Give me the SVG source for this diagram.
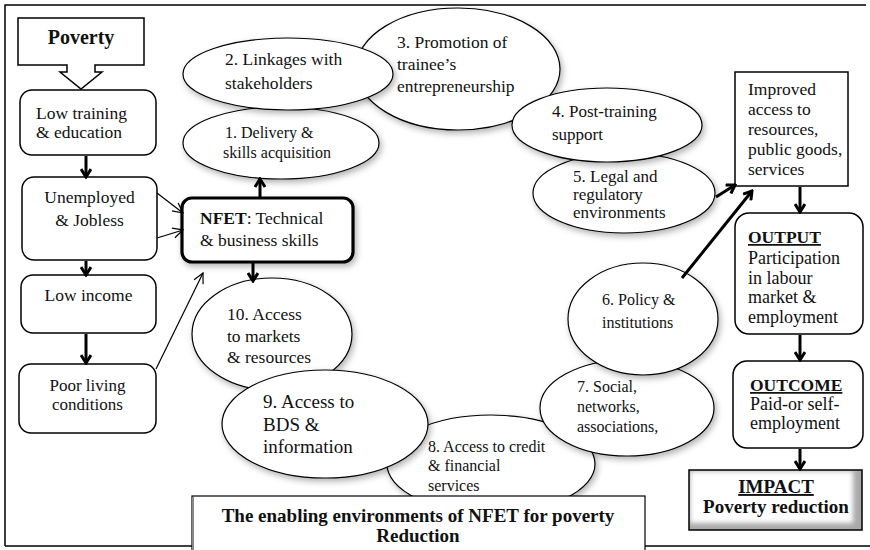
<svg xmlns="http://www.w3.org/2000/svg" width="870" height="550" viewBox="0 0 870 550">
<style>
.t{font-family:"Liberation Serif","Times New Roman",serif;font-size:17.5px;fill:#111}
.b{font-weight:bold}
.m{text-anchor:middle}
.box{fill:#fff;stroke:#000;stroke-width:1.5}
.ell{fill:#fff;stroke:#000;stroke-width:1.2;filter:url(#sh)}
.thick{stroke:#000;stroke-width:3;fill:none;marker-end:url(#ah)}
.thin{stroke:#000;stroke-width:1.2;fill:none;marker-end:url(#ahs)}
.frame{fill:none;stroke:#000;stroke-width:1.5}
</style>
<defs>
<filter id="sh" x="-20%" y="-20%" width="150%" height="160%">
<feDropShadow dx="2" dy="3" stdDeviation="3" flood-color="#000" flood-opacity="0.3"/>
</filter>
<filter id="blur" x="-10%" y="-10%" width="120%" height="120%">
<feGaussianBlur stdDeviation="2.5"/>
</filter>
<marker id="ah" viewBox="0 0 12 12" refX="10" refY="6" markerWidth="12" markerHeight="12" markerUnits="userSpaceOnUse" orient="auto">
<path d="M2,1 L10,6 L2,11" fill="none" stroke="#000" stroke-width="3"/>
</marker>
<marker id="ahs" viewBox="0 0 12 12" refX="11" refY="6" markerWidth="12" markerHeight="12" markerUnits="userSpaceOnUse" orient="auto">
<path d="M1,1 L11,6 L1,11" fill="none" stroke="#000" stroke-width="1.2"/>
</marker>
</defs>
<rect width="870" height="550" fill="#fff"/>
<path class="frame" d="M5,546 L5,5 L866,5"/>
<line class="frame" x1="5" y1="546" x2="870" y2="546"/>

<g id="e8"><ellipse class="ell" cx="491" cy="464" rx="104" ry="49"/>
<text class="t" style="font-size:16px" x="428" y="452">8. Access to credit</text>
<text class="t" style="font-size:16px" x="428" y="471">&amp; financial</text>
<text class="t" style="font-size:16px" x="428" y="491">services</text></g>
<g id="e10"><ellipse class="ell" cx="272" cy="334" rx="80" ry="56"/>
<text class="t" x="227" y="320">10. Access</text>
<text class="t" x="227" y="342">to markets</text>
<text class="t" x="227" y="363">&amp; resources</text></g>
<g id="e9"><ellipse class="ell" cx="325" cy="424" rx="103" ry="54"/>
<text class="t" style="font-size:19px" x="263" y="408">9. Access to</text>
<text class="t" style="font-size:19px" x="263" y="431">BDS &amp;</text>
<text class="t" style="font-size:19px" x="263" y="453">information</text></g>
<g id="e7"><ellipse class="ell" cx="627" cy="408" rx="87" ry="48"/>
<text class="t" style="font-size:16px" x="577" y="392">7. Social,</text>
<text class="t" style="font-size:16px" x="577" y="412">networks,</text>
<text class="t" style="font-size:16px" x="577" y="432">associations,</text></g>
<g id="e6"><ellipse class="ell" cx="643" cy="319" rx="75" ry="56"/>
<text class="t" style="font-size:16px" x="602" y="305">6. Policy &amp;</text>
<text class="t" style="font-size:16px" x="602" y="328">institutions</text></g>
<g id="e5"><ellipse class="ell" cx="624" cy="193" rx="91" ry="40"/>
<text class="t" style="font-size:17px" x="573" y="182">5. Legal and</text>
<text class="t" style="font-size:17px" x="573" y="200">regulatory</text>
<text class="t" style="font-size:17px" x="573" y="218">environments</text></g>
<g id="e3"><ellipse class="ell" cx="458" cy="69" rx="102" ry="61"/>
<text class="t" x="397" y="48">3. Promotion of</text>
<text class="t" x="397" y="70">trainee’s</text>
<text class="t" x="397" y="92">entrepreneurship</text></g>
<g id="e4"><ellipse class="ell" cx="607" cy="125" rx="95" ry="37"/>
<text class="t" style="font-size:17px" x="552" y="117">4. Post-training</text>
<text class="t" style="font-size:17px" x="552" y="140">support</text></g>
<g id="e1"><ellipse class="ell" cx="281" cy="143" rx="98" ry="36"/>
<text class="t" style="font-size:16px" x="225" y="138">1. Delivery &amp;</text>
<text class="t" style="font-size:16px" x="223" y="158">skills acquisition</text></g>
<g id="e2"><ellipse class="ell" cx="288" cy="74" rx="105" ry="36"/>
<text class="t" x="225" y="65">2. Linkages with</text>
<text class="t" x="225" y="89">stakeholders</text></g>

<g id="poverty"><polygon class="box" points="18,18 144,18 144,65 95,65 95,72 102,72 81,89 60,72 67,72 67,65 18,65"/>
<text class="t b m" style="font-size:20px" x="81" y="44">Poverty</text></g>
<g id="lowtraining"><rect class="box" x="20" y="90" width="136" height="65" rx="12"/>
<text class="t" x="36" y="119">Low training</text>
<text class="t" x="36" y="138">&amp; education</text></g>
<g id="unemployed"><rect class="box" x="22" y="177" width="135" height="83" rx="12"/>
<text class="t m" x="89.5" y="203">Unemployed</text>
<text class="t m" x="89.5" y="226">&amp; Jobless</text></g>
<g id="lowincome"><rect class="box" x="21" y="275" width="135" height="58" rx="12"/>
<text class="t m" x="88.5" y="301">Low income</text></g>
<g id="poorliving"><rect class="box" x="19" y="364" width="137" height="69" rx="12"/>
<text class="t m" style="font-size:17px" x="87.5" y="391">Poor living</text>
<text class="t m" style="font-size:17px" x="87.5" y="410">conditions</text></g>
<g id="nfet"><rect x="182" y="198" width="171" height="64" rx="10" fill="#fff" stroke="#000" stroke-width="3.2" filter="url(#sh)"/>
<text class="t" x="200" y="224"><tspan class="b">NFET</tspan>: Technical</text>
<text class="t" x="200" y="246">&amp; business skills</text></g>
<g id="improved"><rect class="box" x="735" y="72" width="113" height="114"/>
<text class="t" x="748" y="95">Improved</text>
<text class="t" x="748" y="115">access to</text>
<text class="t" x="748" y="135">resources,</text>
<text class="t" x="748" y="155">public goods,</text>
<text class="t" x="748" y="175">services</text></g>
<g id="output"><rect class="box" x="735" y="213" width="128" height="121" rx="14"/>
<text class="t b" x="748" y="243" text-decoration="underline">OUTPUT</text>
<text class="t" style="font-size:18px" x="748" y="264">Participation</text>
<text class="t" style="font-size:18px" x="748" y="284">in labour</text>
<text class="t" style="font-size:18px" x="748" y="303">market &amp;</text>
<text class="t" style="font-size:18px" x="748" y="323">employment</text></g>
<g id="outcome"><rect class="box" x="733" y="361" width="130" height="87" rx="14"/>
<text class="t b" x="750" y="391" text-decoration="underline">OUTCOME</text>
<text class="t" style="font-size:18px" x="750" y="410">Paid-or self-</text>
<text class="t" style="font-size:18px" x="750" y="429">employment</text></g>
<g id="impact"><rect x="689" y="470" width="173" height="60" fill="#a9a9a9"/>
<rect x="690" y="471" width="163" height="52" fill="#fff" filter="url(#blur)"/>
<rect x="689" y="470" width="173" height="60" fill="none" stroke="#000" stroke-width="1.5"/>
<text class="t b m" style="font-size:19px" x="776" y="493" text-decoration="underline">IMPACT</text>
<text class="t b m" style="font-size:19px" x="776" y="513">Poverty reduction</text></g>
<g id="title"><rect x="192" y="496" width="453" height="62" fill="#fff" stroke="#000" stroke-width="1.2"/>
<line x1="193" y1="497" x2="193" y2="550" stroke="#888" stroke-width="2"/>
<text class="t b m" style="font-size:19px" x="418" y="522">The enabling environments of NFET for poverty</text>
<text class="t b m" style="font-size:19px" x="418" y="542">Reduction</text></g>

<g id="connectors">
<line class="thick" x1="86" y1="156" x2="86" y2="177"/>
<line class="thick" x1="86" y1="261" x2="86" y2="275"/>
<line class="thick" x1="86" y1="334" x2="86" y2="363"/>
<line class="thick" x1="260" y1="198" x2="260" y2="179"/>
<line class="thick" x1="253" y1="262" x2="253" y2="281"/>
<line class="thick" x1="716" y1="197" x2="735" y2="185"/>
<line class="thick" x1="682" y1="278" x2="752" y2="191"/>
<line class="thick" x1="800" y1="187" x2="800" y2="212"/>
<line class="thick" x1="800" y1="335" x2="800" y2="360"/>
<line class="thick" x1="800" y1="449" x2="800" y2="469"/>
<line class="thin" x1="157" y1="193" x2="183" y2="213"/>
<line class="thin" x1="157" y1="238" x2="183" y2="230"/>
<line class="thin" x1="156" y1="369" x2="203" y2="273"/>
</g>
</svg>
